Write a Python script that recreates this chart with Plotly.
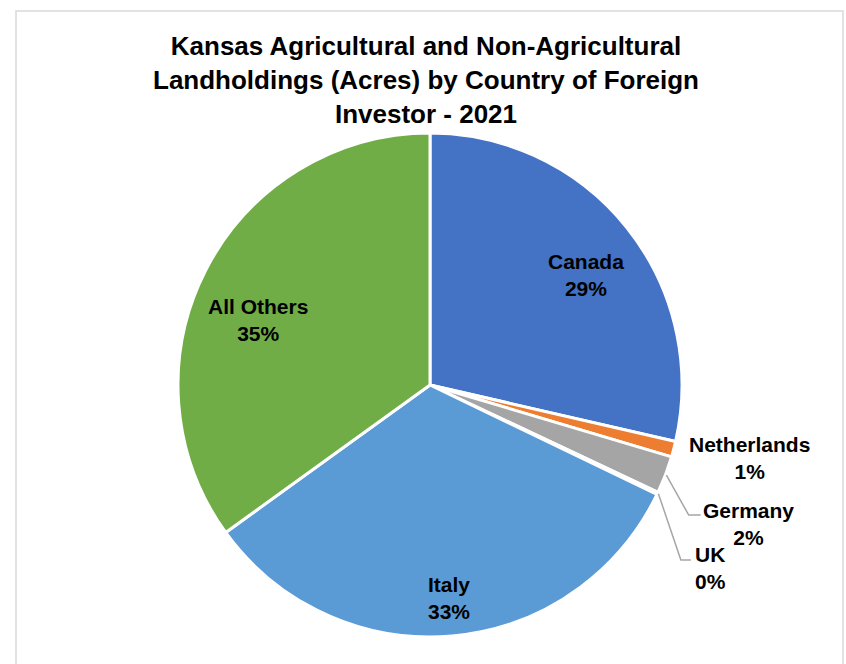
import math
import plotly.graph_objects as go

# Share of foreign-held acres by investor country (percent)
countries = ["Canada", "Netherlands", "Germany", "UK", "Italy", "All Others"]
shares = [28.6, 1.0, 2.4, 0.15, 32.9, 34.95]
colors = ["#4472C4", "#ED7D31", "#A5A5A5", "#FFC000", "#5B9BD5", "#70AD47"]

title_text = ("Kansas Agricultural and Non-Agricultural<br>"
              "Landholdings (Acres) by Country of Foreign<br>"
              "Investor - 2021")

W, H = 846, 664
CX, CY, R = 430, 385, 252  # pie centre and radius in pixels

# label placement: (radius factor, angular nudge in degrees)
label_style = {
    "Canada": (0.76, 3.3),
    "Netherlands": (1.30, -1.8),
    "Germany": (1.38, 2.7),
    "UK": (1.33, 7.6),
    "Italy": (0.85, 0.0),
    "All Others": (0.73, -6.4),
}
# elbow leader lines for thin slices: offsets from label centre (elbow, end)
leaders = {
    "Germany": ((-60, -9), (-48, -9)),
    "UK": ((-30, -8), (-20, -8)),
}


def px(x, y):
    return x / W, 1 - y / H


def polar(angle_deg, r):
    a = math.radians(angle_deg)
    return CX + r * math.sin(a), CY - r * math.cos(a)


fig = go.Figure(go.Pie(
    labels=countries,
    values=shares,
    sort=False,
    direction="clockwise",
    rotation=0,
    marker=dict(colors=colors, line=dict(color="white", width=3)),
    textinfo="none",
    hoverinfo="label+percent",
    showlegend=False,
    domain=dict(x=[(CX - R) / W, (CX + R) / W],
                y=[1 - (CY + R) / H, 1 - (CY - R) / H]),
))

total = sum(shares)
cum = 0.0
annotations = []
shapes = []
label_font = dict(family="Liberation Sans, Arial, sans-serif", size=21, color="black")
for name, v in zip(countries, shares):
    start = cum / total * 360
    cum += v
    end = cum / total * 360
    mid = (start + end) / 2
    rf, nudge = label_style[name]
    lx, ly = polar(mid + nudge, rf * R)
    pct = round(v / total * 100)
    x, y = px(lx, ly)
    annotations.append(dict(
        x=x, y=y, xref="paper", yref="paper", showarrow=False,
        text=f"<b>{name}<br>{pct}%</b>", font=label_font, align="center",
        xanchor="center", yanchor="middle",
    ))
    if name in leaders:
        sx, sy = polar(mid, R + 1)
        (ex, ey), (fx, fy) = leaders[name]
        pts = [px(sx, sy), px(lx + ex, ly + ey), px(lx + fx, ly + fy)]
        path = "M {} {} L {} {} L {} {}".format(*[c for p in pts for c in p])
        shapes.append(dict(type="path", path=path, xref="paper", yref="paper",
                           line=dict(color="#A6A6A6", width=1.5)))

annotations.append(dict(
    x=px(426, 0)[0], y=px(0, 29)[1], xref="paper", yref="paper", showarrow=False,
    text=f"<b>{title_text}</b>", align="center", xanchor="center", yanchor="top",
    font=dict(family="Liberation Sans, Arial, sans-serif", size=26, color="black"),
))

# chart area frame
shapes.append(dict(type="rect", xref="paper", yref="paper",
                   x0=16 / W, x1=843 / W, y0=-0.02, y1=1 - 11 / H,
                   line=dict(color="#D9D9D9", width=1.5)))

fig.update_layout(
    width=W, height=H,
    margin=dict(l=0, r=0, t=0, b=0),
    paper_bgcolor="white",
    plot_bgcolor="white",
    annotations=annotations,
    shapes=shapes,
)

fig.write_html("out.html")
